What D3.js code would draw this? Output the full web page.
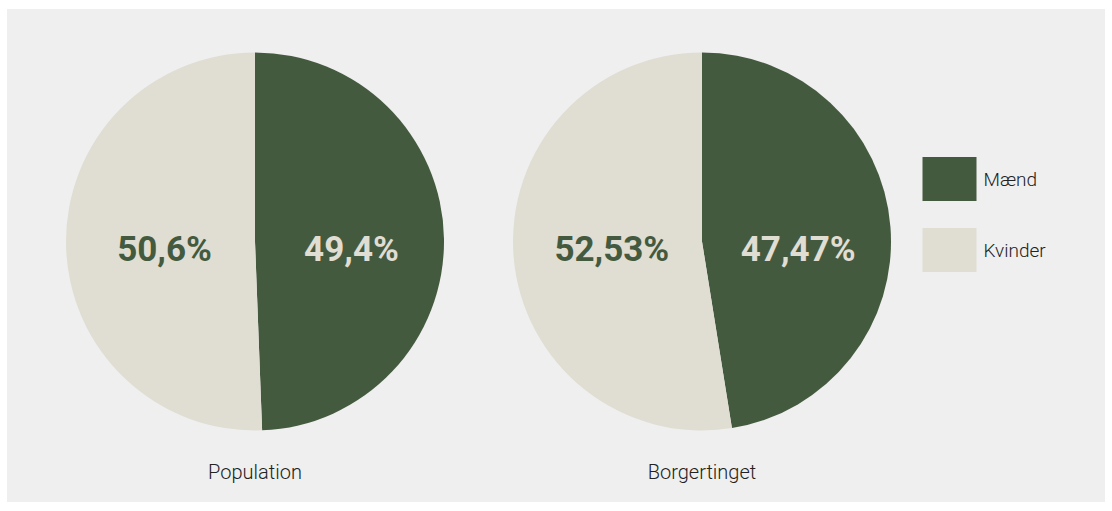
<!DOCTYPE html>
<html>
<head>
<meta charset="utf-8">
<script src="https://cdn.jsdelivr.net/npm/d3@7"></script>
<style>
  body { margin: 0; background: #fff; }
  svg { display: block; font-family: Roboto, "Noto Sans", sans-serif; }
</style>
</head>
<body>
<svg id="chart"></svg>
<script>
const categories = ["Mænd", "Kvinder"];
const charts = ["Population", "Borgertinget"];
const populationValues = [49.4, 50.6];
const borgertingetValues = [47.47, 52.53];
const seriesValues = [populationValues, borgertingetValues];

(function() {
    const width = 1112, height = 511;
    const colors = { green: "#445a3f", beige: "#e0ddd2" };

    const svg = d3.select("#chart")
        .attr("width", width)
        .attr("height", height);

    // panel background
    svg.append("rect")
        .attr("x", 7).attr("y", 9)
        .attr("width", width - 14).attr("height", height - 18)
        .attr("fill", "#efefef");

    const radius = 189;
    const cy = 241.5;

    const xScale = d3.scalePoint()
        .domain(charts)
        .range([255, 702]);

    const color = d3.scaleOrdinal()
        .domain(categories)
        .range([colors.green, colors.beige]);

    const textColor = d3.scaleOrdinal()
        .domain(categories)
        .range([colors.beige, colors.green]);

    const pie = d3.pie().sort(null).value(d => d.value);
    const arc = d3.arc().innerRadius(0).outerRadius(radius);
    const labelArc = d3.arc().innerRadius(radius * 0.5).outerRadius(radius * 0.5);

    const fmt = v => String(v).replace(".", ",") + "%";

    charts.forEach((name, i) => {
        const data = categories.map((c, j) => ({ cat: c, value: seriesValues[i][j] }));
        const g = svg.append("g")
            .attr("transform", `translate(${xScale(name)},${cy})`);

        g.selectAll("path")
            .data(pie(data))
            .enter().append("path")
            .attr("d", arc)
            .attr("fill", d => color(d.data.cat));

        // labels share one baseline, x from the slice centroid
        g.selectAll(".label")
            .data(pie(data))
            .enter().append("text")
            .attr("class", "label")
            .attr("x", d => labelArc.centroid(d)[0] + (d.data.cat === "Kvinder" ? 4 : 2))
            .attr("y", 19)
            .attr("text-anchor", "middle")
            .attr("font-size", "35px")
            .attr("font-weight", "bold")
            .attr("fill", d => textColor(d.data.cat))
            .text(d => fmt(d.data.value));

        svg.append("text")
            .attr("x", xScale(name))
            .attr("y", 478.5)
            .attr("text-anchor", "middle")
            .attr("font-size", "20px")
            .attr("font-weight", 300)
            .attr("fill", "#222")
            .text(name);
    });

    // legend
    const legend = svg.append("g").attr("transform", "translate(922.5,157)");
    const items = legend.selectAll(".item")
        .data(categories)
        .enter().append("g")
        .attr("class", "item")
        .attr("transform", (d, i) => `translate(0,${i * 71})`);

    items.append("rect")
        .attr("width", 54).attr("height", 44)
        .attr("fill", d => color(d));

    items.append("text")
        .attr("x", 61)
        .attr("y", 29)
        .attr("font-size", "19px")
        .attr("font-weight", 300)
        .attr("fill", "#222")
        .text(d => d);
})();
</script>
</body>
</html>
